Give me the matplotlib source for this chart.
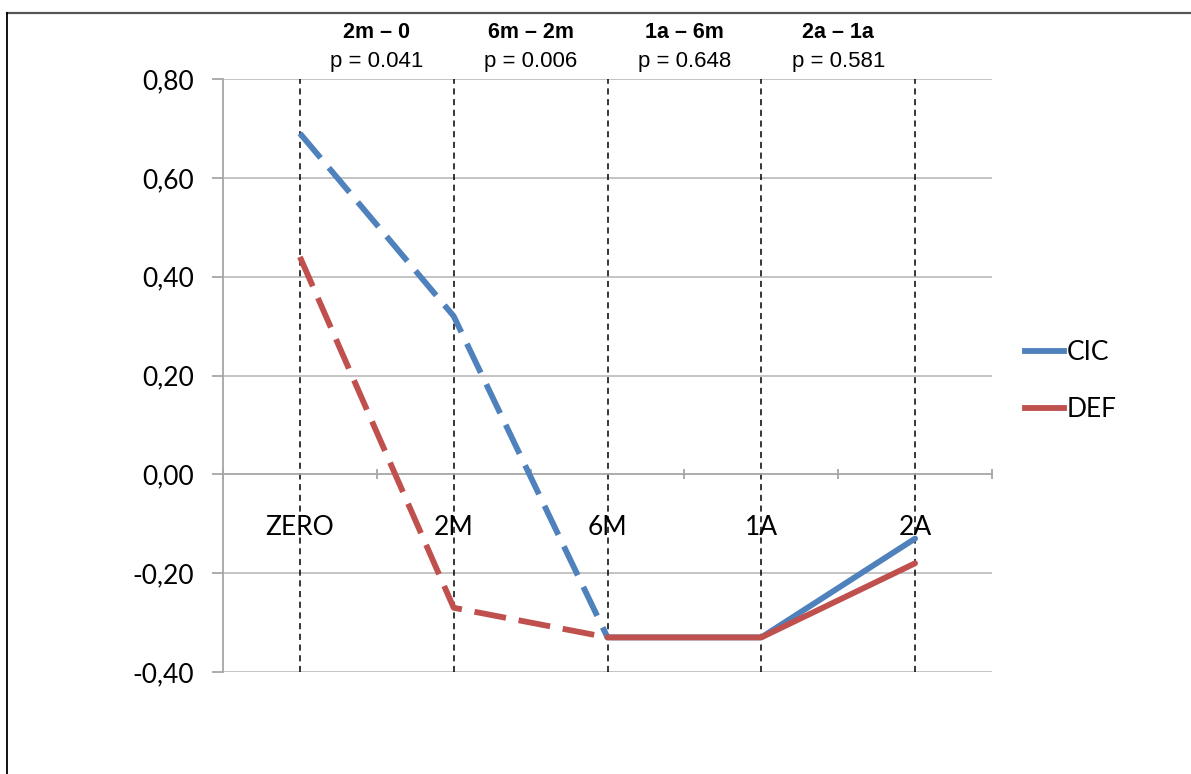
import numpy as np
import matplotlib.pyplot as plt
from matplotlib.lines import Line2D

categories = ["ZERO", "2M", "6M", "1A", "2A"]
cic = [0.69, 0.32, -0.33, -0.33, -0.13]
defi = [0.44, -0.27, -0.33, -0.33, -0.18]
pair_labels = ["2m \u2013 0", "6m \u2013 2m", "1a \u2013 6m", "2a \u2013 1a"]
p_values = ["p = 0.041", "p = 0.006", "p = 0.648", "p = 0.581"]
yticks = [-0.4, -0.2, 0.0, 0.2, 0.4, 0.6, 0.8]

blue = "#4F81BD"
red = "#C0504D"
W, H = 1191, 774

fig = plt.figure(figsize=(W / 100, H / 100), dpi=100)
ax = fig.add_axes([223 / W, 1 - 672 / H, (992 - 223) / W, (672 - 79) / H])

x = np.arange(len(categories))
ax.set_xlim(-0.5, len(categories) - 0.5)
ax.set_ylim(-0.4, 0.8)

# grid
for yv in yticks:
    if yv != 0:
        ax.axhline(yv, color="#BFBFBF", lw=1.3, zorder=1)

# vertical dashed markers at each time point
ax.vlines(x, -0.4, 0.8, colors="black", lw=1.1, linestyles=(0, (4, 3)), zorder=2)

lw = 4.2
for vals, col in [(cic, blue), (defi, red)]:
    ax.plot(x[:3], vals[:3], color=col, lw=lw, ls=(0, (5.5, 2.2)), zorder=3,
            solid_capstyle="butt", dash_capstyle="butt")
    ax.plot(x[2:], vals[2:], color=col, lw=lw, zorder=3, solid_capstyle="round")

# spines
for s in ["top", "right"]:
    ax.spines[s].set_visible(False)
ax.spines["left"].set_color("#A6A6A6")
ax.spines["left"].set_linewidth(1.3)
ax.spines["bottom"].set_position(("data", 0))
ax.spines["bottom"].set_color("#A6A6A6")
ax.spines["bottom"].set_linewidth(1.3)

ax.set_yticks(yticks)
ax.set_yticklabels([f"{v:.2f}".replace(".", ",") for v in yticks],
                   fontfamily="Lato", fontsize=19)
ax.tick_params(axis="y", length=8, width=1.3, color="#A6A6A6", pad=13)

ax.set_xticks(x)
ax.set_xticklabels(categories, fontfamily="Lato", fontsize=19)
ax.set_xticks(np.arange(-0.5, len(categories)), minor=True)
ax.tick_params(axis="x", which="major", length=0, pad=29)
ax.tick_params(axis="x", which="minor", length=7, width=1.3, color="#A6A6A6", direction="inout")

# comparison annotations above the plot
for i, (lab, pv) in enumerate(zip(pair_labels, p_values)):
    xm = i + 0.5
    ax.text(xm, 1 + 46 / (672 - 79), lab, transform=ax.get_xaxis_transform(),
            ha="center", va="center", fontsize=15.5, fontweight="bold",
            fontfamily="Liberation Sans")
    ax.text(xm, 1 + 18 / (672 - 79), pv, transform=ax.get_xaxis_transform(),
            ha="center", va="center", fontsize=16, fontfamily="Liberation Sans")

handles = [Line2D([], [], color=blue, lw=lw), Line2D([], [], color=red, lw=lw)]
fig.legend(handles, ["CIC", "DEF"], loc="center left",
           bbox_to_anchor=(1014 / W, 1 - 381 / H), frameon=False,
           prop={"family": "Lato", "size": 19}, handlelength=1.5,
           handletextpad=0.1, labelspacing=1.2, borderaxespad=0)

# outer frame
fig.add_artist(Line2D([7 / W, 1], [1 - 13 / H, 1 - 13 / H], color="#555555", lw=1.6,
                      transform=fig.transFigure))
fig.add_artist(Line2D([7 / W, 7 / W], [0, 1 - 13 / H], color="black", lw=1.3,
                      transform=fig.transFigure))

fig.savefig("out.png", dpi=100)
